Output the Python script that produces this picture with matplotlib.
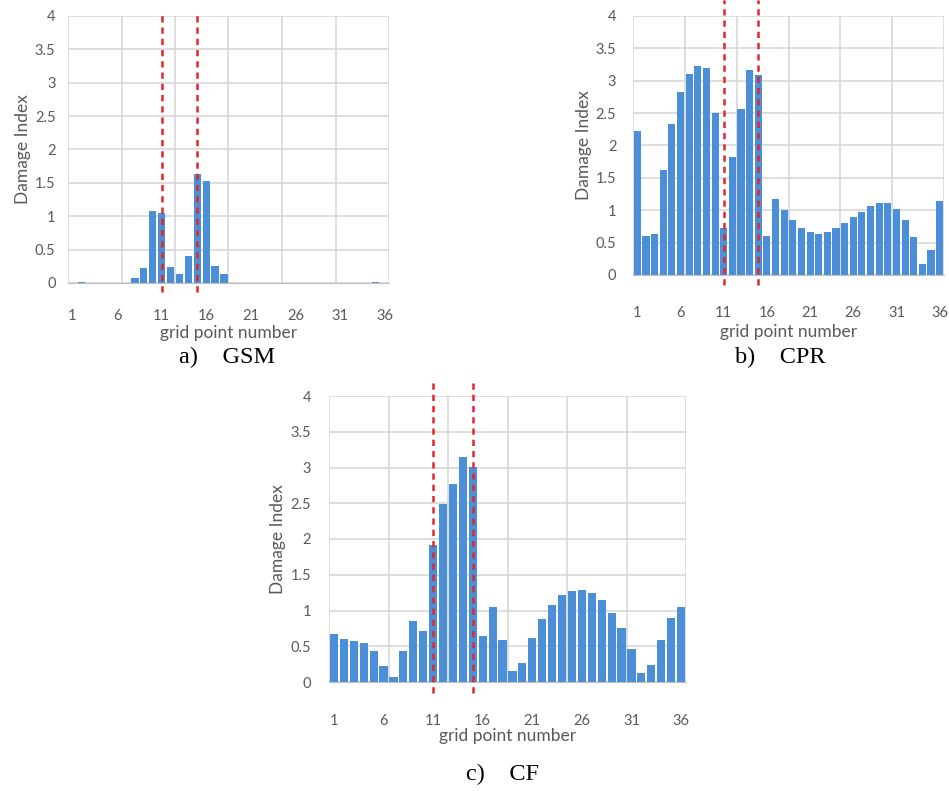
import numpy as np
import matplotlib
matplotlib.use("Agg")
import matplotlib.pyplot as plt

# grid point numbers 1..36
grid_points = list(range(1, 37))
tick_labels = [1, 6, 11, 16, 21, 26, 31, 36]
damage_lines = [11, 15]

gsm = [0, 0.02, 0, 0, 0, 0, 0, 0.08, 0.22, 1.08, 1.05, 0.24, 0.14, 0.40,
       1.63, 1.53, 0.26, 0.13, 0, 0, 0, 0, 0, 0, 0, 0, 0, 0, 0, 0,
       0, 0, 0, 0, 0.01, 0]
cpr = [2.23, 0.61, 0.64, 1.62, 2.33, 2.82, 3.10, 3.23, 3.19, 2.50, 0.72,
       1.83, 2.56, 3.17, 3.09, 0.61, 1.18, 1.00, 0.85, 0.72, 0.66, 0.63,
       0.66, 0.72, 0.80, 0.89, 0.98, 1.06, 1.11, 1.11, 1.02, 0.85, 0.58,
       0.17, 0.38, 1.14]
cf = [0.675, 0.60, 0.58, 0.545, 0.44, 0.23, 0.065, 0.44, 0.86, 0.72, 1.92,
      2.49, 2.77, 3.14, 3.01, 0.65, 1.05, 0.59, 0.15, 0.27, 0.61, 0.875,
      1.07, 1.21, 1.27, 1.28, 1.24, 1.14, 0.97, 0.75, 0.46, 0.13, 0.24,
      0.59, 0.89, 1.05]

captions = ["a)    GSM", "b)    CPR", "c)    CF"]

W, H = 949, 791
BAR = "#4a8fd8"
GRID = "#d4d4d4"
TXT = "#595959"
plt.rcParams['font.family'] = ['Lato', 'DejaVu Sans']

fig = plt.figure(figsize=(W / 100, H / 100), dpi=100)


def make_axes(left, right, top, bottom):
    return fig.add_axes([left / W, 1 - bottom / H, (right - left) / W, (bottom - top) / H])


def draw(ax, values, line_span, tick_pad, label_pad):
    ax.bar(grid_points, values, width=0.82, color=BAR, zorder=2)
    ax.set_xlim(0.5, 36.5)
    ax.set_ylim(0, 4)
    ax.set_xticks(tick_labels)
    ax.set_xticks(np.arange(0.5, 37, 6), minor=True)
    ax.set_yticks(np.arange(0, 4.01, 0.5))
    ax.set_yticklabels(["0", "0.5", "1", "1.5", "2", "2.5", "3", "3.5", "4"])
    ax.grid(which='minor', axis='x', color=GRID, lw=1.1, zorder=0)
    ax.grid(which='major', axis='y', color=GRID, lw=1.1, zorder=0)
    ax.tick_params(which='both', length=0, labelsize=10.5, colors=TXT)
    ax.tick_params(axis='x', pad=tick_pad)
    ax.tick_params(axis='y', pad=tick_pad - 10)
    for s in ['top', 'right', 'left']:
        ax.spines[s].set_visible(False)
    ax.spines['bottom'].set_color("#bfbfbf")
    ax.set_xlabel("grid point number", fontsize=12.5, color=TXT, labelpad=label_pad)
    ax.set_ylabel("Damage Index", fontsize=12.5, color=TXT, labelpad=3)
    for x in damage_lines:
        ax.axvline(x, ymin=line_span[0], ymax=line_span[1], color="#e3262b",
                   ls=(0, (2.5, 2)), lw=1.8, clip_on=False, zorder=3)


ax_a = make_axes(68, 389, 16, 283)
draw(ax_a, gsm, (-0.034, 1.011), 19, 1)
ax_b = make_axes(633, 944, 16, 275)
draw(ax_b, cpr, (-0.039, 1.06), 22, 3)
ax_c = make_axes(329, 686, 396, 682)
draw(ax_c, cf, (-0.038, 1.045), 23, 0)

for (cx, cy), text in zip([(227, 357), (780, 357), (503, 774)], captions):
    fig.text(cx / W, 1 - cy / H, text, ha='center', va='center',
             family=['Liberation Serif', 'DejaVu Serif'], fontsize=17.5, color='black')

fig.savefig("out.png", dpi=100, facecolor='white')
